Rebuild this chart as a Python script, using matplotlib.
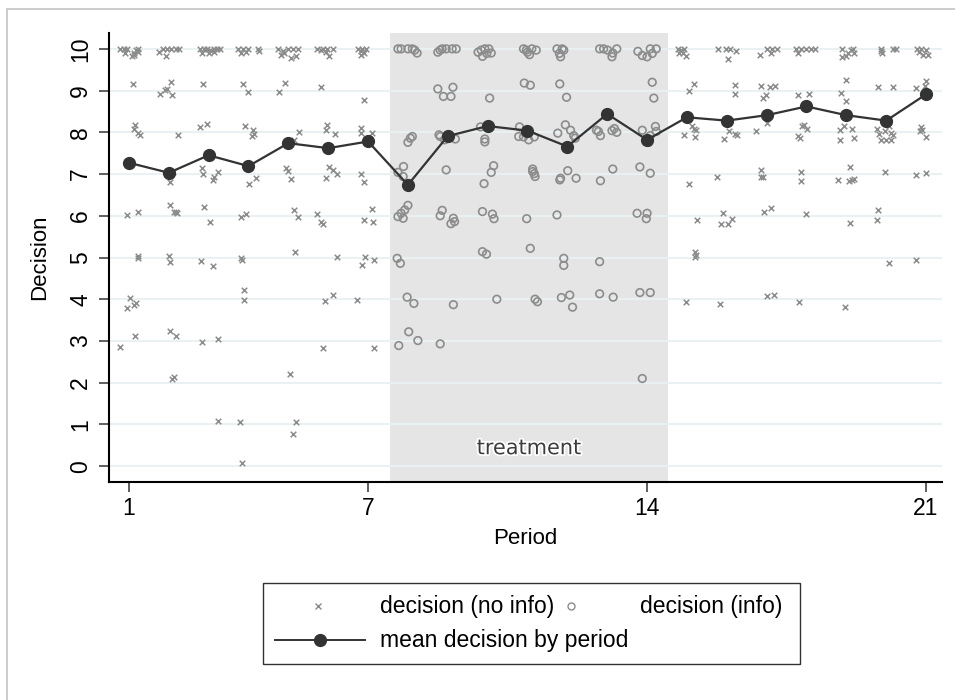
import matplotlib
matplotlib.use("Agg")
import matplotlib.pyplot as plt
import matplotlib.patheffects as pe
from matplotlib.lines import Line2D
from matplotlib.patches import Rectangle

# jittered decisions, periods without information (1-7, 15-21)
noinfo_x = [
    0.78, 0.88, 0.95, 0.91, 1.08, 1.12, 1.18, 1.22, 1.24, 1.13,
    1.09, 1.14, 1.12, 1.22, 1.27, 0.95, 1.24, 1.24, 1.22, 1.02, 0.95, 1.12, 1.18, 1.14, 0.78,
    1.75, 1.86, 1.96, 2.06, 2.17, 2.25, 1.93,
    1.79, 1.90, 1.96, 2.06, 2.08, 2.23, 2.11, 2.03, 2.03, 2.14, 2.21, 2.17, 2.00, 2.04, 2.03, 2.19, 2.13, 2.09,
    2.79, 2.88, 2.96, 3.04, 3.13, 3.21, 3.28, 2.83, 3.00, 3.13,
    2.86, 2.79, 2.96, 2.83, 2.86, 3.13, 3.11, 3.23, 2.89, 3.04, 2.81, 3.10, 2.83, 3.23, 3.23,
    3.73, 3.85, 3.99, 4.23, 3.81, 3.93, 4.27,
    3.85, 4.00, 3.92, 4.12, 4.14, 4.10, 4.02, 4.20, 3.81, 3.93, 3.81, 3.84, 3.89, 3.88, 3.79, 3.83,
    4.73, 4.86, 4.98, 5.11, 5.23, 4.82, 5.07, 5.19, 4.90,
    4.76, 4.92, 5.15, 5.26, 4.94, 4.98, 5.07, 5.15, 5.23, 5.17, 5.04, 5.18, 5.11,
    5.73, 5.86, 5.98, 6.11, 5.94, 6.03, 5.82,
    5.83, 5.97, 5.94, 6.18, 6.03, 6.13, 6.23, 5.95, 5.73, 5.83, 5.88, 6.22, 5.92, 6.13, 5.86,
    6.75, 6.86, 6.94, 6.82, 6.90, 6.82,
    6.90, 6.82, 6.83, 7.10, 6.83, 6.90, 7.11, 6.90, 7.13, 6.93, 7.15, 6.86, 6.73, 7.16,
    14.77, 14.85, 14.89, 14.98, 14.81, 14.93,
    15.06, 15.18, 15.14, 15.23, 15.17, 14.92, 15.21, 15.06, 15.25, 15.21, 15.23, 15.20, 14.98,
    15.79, 15.98, 16.08, 16.23, 16.03,
    16.21, 16.20, 15.93, 16.06, 16.21, 16.25, 15.75, 15.91, 15.85, 16.03, 16.14, 15.83,
    16.83, 17.02, 17.14, 17.27, 17.10,
    16.85, 16.92, 16.99, 17.08, 17.20, 16.74, 17.02, 16.85, 16.85, 16.91, 16.93, 17.10, 17.02, 17.18,
    17.73, 17.86, 17.98, 18.11, 18.21, 17.79,
    17.79, 18.07, 17.88, 17.94, 18.01, 17.78, 17.84, 17.86, 17.86, 17.98, 17.80,
    18.88, 18.89, 19.00, 19.11, 19.19, 19.17, 19.04,
    19.00, 18.86, 18.98, 18.85, 18.93, 18.85, 19.15, 19.19, 19.10, 18.79, 19.07, 19.19, 19.15, 19.08, 18.97,
    19.88, 19.89, 20.17, 19.86, 20.25,
    19.79, 20.17, 19.78, 19.83, 19.96, 20.08, 20.13, 20.17, 19.88, 20.00, 20.13, 19.98, 19.79, 19.78, 20.08,
    20.78, 20.88, 21.00, 20.92, 21.04, 20.83,
    20.75, 21.00, 20.98, 20.88, 20.90, 20.86, 21.00, 20.75, 21.00, 20.75,
]
noinfo_y = [
    10.0, 10.0, 10.0, 9.89, 9.84, 9.90, 9.97, 10.0, 9.92, 9.86,
    9.16, 8.18, 8.08, 7.98, 7.94, 6.02, 6.09, 5.04, 4.98, 4.04, 3.80, 3.86, 3.92, 3.13, 2.86,
    9.92, 10.0, 10.0, 10.0, 10.0, 10.0, 9.82,
    8.92, 9.01, 9.04, 9.20, 8.89, 7.94, 7.04, 6.82, 6.25, 6.10, 6.06, 6.08, 5.04, 4.90, 3.24, 3.13, 2.14, 2.08,
    10.0, 10.0, 10.0, 9.98, 10.0, 10.0, 10.0, 9.89, 9.90, 9.92,
    9.16, 8.13, 8.21, 7.14, 7.01, 6.94, 6.85, 7.06, 6.22, 5.84, 4.92, 4.80, 2.98, 3.04, 1.08,
    10.0, 10.0, 10.0, 10.0, 9.89, 9.92, 9.94,
    9.16, 8.97, 8.15, 8.05, 7.97, 7.92, 6.76, 6.90, 5.98, 6.04, 5.00, 4.93, 4.21, 3.97, 1.05, 0.08,
    10.0, 9.94, 10.0, 10.0, 10.0, 9.86, 9.78, 9.82, 9.90,
    8.96, 9.18, 7.82, 8.00, 7.14, 7.08, 6.89, 6.13, 5.98, 5.13, 2.22, 1.05, 0.78,
    10.0, 10.0, 10.0, 10.0, 9.92, 9.82, 9.97,
    9.08, 8.18, 8.06, 7.96, 7.17, 7.10, 7.01, 6.91, 6.05, 5.86, 5.81, 5.02, 3.96, 4.10, 2.82,
    10.0, 10.0, 10.0, 9.94, 9.90, 9.86,
    8.78, 8.10, 7.98, 7.98, 7.01, 6.82, 6.17, 5.90, 5.84, 5.02, 4.93, 4.81, 3.98, 2.82,
    10.0, 9.97, 9.90, 9.82, 9.89, 10.0,
    9.00, 9.16, 8.14, 8.06, 8.08, 7.94, 7.89, 6.76, 5.90, 5.14, 5.06, 5.02, 3.93,
    10.0, 10.0, 10.0, 9.94, 9.76,
    9.14, 8.92, 7.85, 8.02, 7.97, 7.94, 6.92, 6.06, 5.81, 5.80, 5.92, 3.89,
    9.86, 10.0, 10.0, 10.0, 9.90,
    9.10, 8.82, 8.89, 9.08, 9.10, 8.02, 8.22, 7.10, 6.94, 6.93, 6.10, 6.18, 4.08, 4.10,
    10.0, 10.0, 10.0, 10.0, 10.0, 9.90,
    8.90, 8.93, 8.14, 8.18, 8.09, 7.92, 7.86, 7.04, 6.84, 6.04, 3.94,
    10.0, 9.81, 9.84, 9.97, 9.90, 10.0, 9.89,
    9.25, 8.94, 8.76, 8.05, 8.14, 7.82, 8.08, 7.86, 7.17, 6.86, 6.84, 6.89, 6.85, 5.82, 3.82,
    10.0, 9.89, 10.0, 9.94, 10.0,
    9.09, 9.08, 8.09, 7.97, 8.02, 8.14, 7.98, 7.94, 7.82, 7.82, 7.82, 7.04, 6.13, 5.89, 4.86,
    10.0, 10.0, 9.97, 9.86, 9.86, 9.92,
    9.06, 9.22, 9.10, 8.13, 8.06, 8.04, 7.89, 6.98, 7.02, 4.93,
]

# jittered decisions, treatment periods with information (8-14)
info_x = [
    7.75, 7.83, 8.00, 8.11, 8.17, 8.23,
    8.00, 8.11, 8.06, 7.89, 7.75, 7.88, 7.75, 7.83, 7.92, 8.00, 7.88, 7.73, 7.81, 7.98, 8.15, 8.02, 7.77, 8.25,
    8.75, 8.86, 8.96, 9.11, 9.21, 8.81,
    8.75, 8.89, 9.08, 9.13, 8.78, 8.92, 9.19, 8.81, 8.96, 8.86, 8.81, 9.14, 9.08, 9.17, 9.14, 8.81,
    9.76, 9.87, 9.93, 10.03, 10.09, 9.98, 9.84,
    10.05, 9.82, 9.93, 9.93, 10.15, 10.09, 9.91, 9.87, 10.12, 10.16, 9.87, 9.97, 10.23,
    10.90, 11.00, 11.11, 11.22, 11.05, 10.97,
    10.92, 11.07, 10.80, 10.78, 10.90, 11.03, 11.17, 11.13, 11.17, 11.19, 11.13, 10.98, 11.07, 11.19, 11.25,
    11.74, 11.87, 11.80, 11.83, 11.91,
    11.81, 11.98, 11.76, 11.95, 12.08, 12.16, 12.20, 11.83, 11.81, 12.01, 12.22, 11.74, 11.91, 11.91,
    11.85, 12.06, 12.13,
    12.81, 12.91, 13.01, 13.14, 13.24, 13.12,
    12.73, 12.83, 13.12, 13.18, 13.24, 12.78, 12.83, 13.14, 12.81, 12.81, 13.15,
    13.77, 13.88, 14.00, 14.08, 14.23, 14.13,
    14.13, 14.17, 13.88, 14.08, 14.21, 14.23, 14.04, 14.02, 13.82, 14.08, 13.75, 14.00, 13.98, 13.82, 14.08,
    13.88,
]
info_y = [
    10.0, 10.0, 10.0, 10.0, 9.97, 9.90,
    7.76, 7.90, 7.86, 7.18, 7.04, 6.94, 5.98, 6.06, 6.14, 6.25, 5.94, 4.98, 4.86, 4.05, 3.90, 3.22, 2.89, 3.01,
    9.92, 10.0, 10.0, 10.0, 10.0, 9.97,
    9.04, 8.86, 8.86, 9.08, 7.94, 7.82, 7.84, 7.90, 7.10, 6.13, 6.00, 5.94, 5.81, 5.86, 3.87, 2.93,
    9.92, 9.82, 10.0, 10.0, 9.90, 9.89, 9.97,
    8.82, 8.13, 7.84, 7.77, 7.20, 7.04, 6.77, 6.10, 6.04, 5.93, 5.14, 5.08, 4.00,
    10.0, 9.92, 10.0, 9.97, 9.86, 9.97,
    9.18, 9.13, 8.13, 7.90, 7.89, 7.82, 7.89, 7.12, 7.01, 6.94, 7.06, 5.93, 5.22, 4.00, 3.94,
    10.0, 10.0, 9.89, 9.81, 9.97,
    9.16, 8.84, 7.98, 8.18, 8.05, 7.92, 7.86, 6.90, 6.86, 7.08, 6.90, 6.02, 4.98, 4.81,
    4.04, 4.10, 3.81,
    10.0, 10.0, 9.97, 9.90, 10.0, 9.81,
    8.05, 7.92, 8.04, 8.09, 8.00, 8.02, 6.84, 7.12, 4.90, 4.13, 4.05,
    9.94, 9.84, 9.81, 10.0, 10.0, 9.89,
    9.20, 8.82, 8.05, 7.92, 8.14, 8.02, 7.76, 7.82, 7.17, 7.02, 6.06, 6.06, 5.93, 4.16, 4.16,
    2.10,
]

periods = list(range(1, 22))
mean_decision = [7.27, 7.03, 7.45, 7.19, 7.74, 7.62, 7.78, 6.74, 7.91, 8.15, 8.04,
                 7.66, 8.44, 7.82, 8.36, 8.28, 8.41, 8.62, 8.41, 8.28, 8.91]

xticks = [1, 7, 14, 21]
yticks = list(range(0, 11))
treatment_span = (7.55, 14.52)

plt.rcParams['font.family'] = ['Liberation Sans', 'DejaVu Sans']
W, H = 955, 700
fig = plt.figure(figsize=(W / 100, H / 100), dpi=100)

# light frame of the graph region (only top/left visible)
fig.add_artist(Rectangle((7 / W, -0.05), 1.2, 1 - 9 / H + 0.05, transform=fig.transFigure,
                         fill=False, edgecolor='#c4c4c4', lw=1.2))

ax = fig.add_axes([109 / W, 1 - 482 / H, (942 - 109) / W, (482 - 33) / H])
ax.set_xlim(0.5, 21.4)
ax.set_ylim(-0.38, 10.38)

ax.axvspan(*treatment_span, color='#e5e5e5', lw=0, zorder=0)
ax.set_axisbelow(True)
ax.grid(axis='y', color='#eaf1f2', lw=1.4)
ax.grid(axis='x', visible=False)

gray = '#8c8c8c'
ax.scatter(noinfo_x, noinfo_y, marker='x', s=16, color=gray, linewidths=1.1, zorder=2)
ax.scatter(info_x, info_y, marker='o', s=30, facecolors='none', edgecolors=gray,
           linewidths=1.2, zorder=2)
ax.plot(periods, mean_decision, color='#333333', lw=1.6, marker='o', markersize=8.5,
        zorder=3)

ax.text(sum(treatment_span) / 2, 0.43, 'treatment', ha='center', va='center',
        fontsize=15, color='#3c3c3c', family=['DejaVu Sans'],
        path_effects=[pe.withStroke(linewidth=2.5, foreground='white')], zorder=4)

for s in ['top', 'right']:
    ax.spines[s].set_visible(False)
for s in ['left', 'bottom']:
    ax.spines[s].set_linewidth(1.5)
    ax.spines[s].set_color('black')

ax.set_xticks(xticks)
ax.set_yticks(yticks)
ax.tick_params(axis='both', direction='out', length=7, width=1.1, labelsize=16.5, color='#333333')
ax.tick_params(axis='y', pad=5)
for lab in ax.get_yticklabels():
    lab.set_rotation(90)
    lab.set_va('center')

ax.set_xlabel('Period', fontsize=16, labelpad=6)
ax.set_ylabel('Decision', fontsize=16, labelpad=14)

# legend built like the Stata key box
fig.add_artist(Rectangle((263 / W, 1 - 664 / H), (800 - 263) / W, (664 - 583) / H,
                         transform=fig.transFigure, fill=False, edgecolor='#333333', lw=1.0))
r1, r2 = 1 - 606 / H, 1 - 640 / H
fig.add_artist(Line2D([318 / W], [r1], marker='x', markersize=4, color=gray, mew=1.0, ls='none'))
fig.add_artist(Line2D([571 / W], [r1], marker='o', markersize=5, mfc='none', mec=gray, mew=1.0,
                      ls='none'))
fig.add_artist(Line2D([275 / W, 365 / W], [r2, r2], color='#333333', lw=1.4))
fig.add_artist(Line2D([320 / W], [r2], marker='o', markersize=8.5, color='#333333'))
fig.text(380 / W, r1, 'decision (no info)', fontsize=16.5, va='center')
fig.text(640 / W, r1, 'decision (info)', fontsize=16.5, va='center')
fig.text(380 / W, r2, 'mean decision by period', fontsize=16.5, va='center')

fig.savefig('out.png', dpi=100)
